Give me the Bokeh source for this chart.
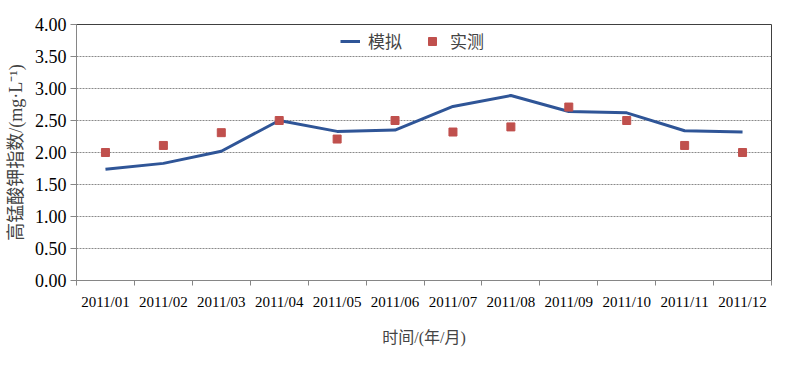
import numpy as np
from bokeh.plotting import figure
from bokeh.models import FixedTicker, Legend, LegendItem, NumeralTickFormatter, Range1d
from bokeh.embed import file_html
from bokeh.resources import INLINE

months = ["2011/01", "2011/02", "2011/03", "2011/04", "2011/05", "2011/06",
          "2011/07", "2011/08", "2011/09", "2011/10", "2011/11", "2011/12"]
simulated = [1.74, 1.83, 2.02, 2.50, 2.33, 2.35, 2.72, 2.89, 2.64, 2.62, 2.34, 2.32]
measured = [2.00, 2.11, 2.31, 2.50, 2.21, 2.50, 2.32, 2.40, 2.71, 2.50, 2.11, 2.00]
y_ticks = [0, 0.5, 1.0, 1.5, 2.0, 2.5, 3.0, 3.5, 4.0]

xpos = np.arange(len(months)) + 0.5

SERIF = "Liberation Serif"
CJK = "Liberation Serif, Noto Sans CJK SC"

p = figure(width=783, height=349, output_backend="svg", toolbar_location=None,
           x_range=Range1d(0, len(months)), y_range=Range1d(0, 4),
           min_border_left=76, min_border_right=12, min_border_top=24, min_border_bottom=69)

p.outline_line_color = "#404040"
p.outline_line_width = 1

r_line = p.line(xpos, simulated, line_color="#2F5597", line_width=3)
r_pts = p.scatter(xpos, measured, marker="square", size=8, fill_color="#C0504D", line_color="#C0504D")

# x axis
p.xaxis.ticker = FixedTicker(ticks=list(xpos), minor_ticks=list(range(len(months) + 1)))
p.xaxis.major_label_overrides = {float(x): m for x, m in zip(xpos, months)}
p.xaxis.major_tick_line_color = None
p.xaxis.minor_tick_line_color = "#868686"
p.xaxis.minor_tick_out = 5
p.xaxis.minor_tick_in = 0
p.xaxis.axis_line_color = "#868686"
p.xaxis.major_label_text_font = SERIF
p.xaxis.major_label_text_font_size = "15px"
p.xaxis.major_label_text_color = "#000000"
p.xaxis.major_label_standoff = 7
p.xaxis.axis_label = "时间/(年/月)"
p.xaxis.axis_label_text_font = CJK
p.xaxis.axis_label_text_font_size = "16px"
p.xaxis.axis_label_text_font_style = "normal"
p.xaxis.axis_label_standoff = 16

# y axis
p.yaxis.ticker = FixedTicker(ticks=y_ticks)
p.yaxis.formatter = NumeralTickFormatter(format="0.00")
p.yaxis.major_tick_line_color = "#868686"
p.yaxis.major_tick_out = 6
p.yaxis.major_tick_in = 0
p.yaxis.minor_tick_line_color = None
p.yaxis.axis_line_color = "#868686"
p.yaxis.major_label_text_font = SERIF
p.yaxis.major_label_text_font_size = "18px"
p.yaxis.major_label_text_color = "#000000"
p.yaxis.major_label_standoff = 4
p.yaxis.axis_label = "高锰酸钾指数/(mg·L⁻¹)"
p.yaxis.axis_label_text_font = CJK
p.yaxis.axis_label_text_font_size = "18px"
p.yaxis.axis_label_text_font_style = "normal"
p.yaxis.axis_label_standoff = 6

p.xgrid.grid_line_color = None
p.ygrid.ticker = FixedTicker(ticks=y_ticks[1:-1])
p.ygrid.grid_line_color = "#8a8a8a"
p.ygrid.grid_line_dash = "2 1"
p.ygrid.grid_line_width = 1

legend = Legend(items=[LegendItem(label="模拟", renderers=[r_line]),
                       LegendItem(label="实测", renderers=[r_pts])],
                orientation="horizontal", location=(264, 227),
                label_text_font=CJK, label_text_font_size="17px",
                border_line_color=None, background_fill_alpha=0,
                glyph_width=20, spacing=20, padding=2, label_standoff=8)
p.add_layout(legend)

open("out.html", "w").write(file_html(p, INLINE))
